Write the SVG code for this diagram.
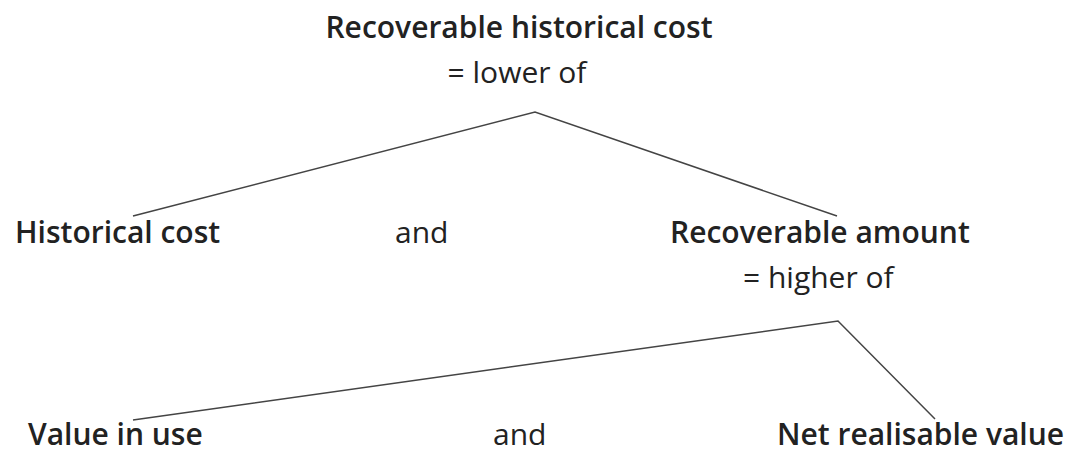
<svg xmlns="http://www.w3.org/2000/svg" width="1069" height="452" viewBox="0 0 1069 452">
  <style>
    text { font-family: "Open Sans", "Liberation Sans", sans-serif; font-size: 30px; fill: #222; }
    .b { font-weight: 600; }
    .c { text-anchor: middle; }
    .link { stroke: #444; stroke-width: 1.5; fill: none; }
  </style>
  <rect width="1069" height="452" fill="#fff"/>
  <g id="connectors">
    <polyline class="link" points="133,216 535,112 837,216"/>
    <polyline class="link" points="133,420 838,321 935,419"/>
  </g>
  <g id="recoverable-historical-cost">
    <text class="b c" x="519" y="38">Recoverable historical cost</text>
    <text class="c" x="517" y="83">= lower of</text>
  </g>
  <g id="historical-cost">
    <text class="b" x="15" y="243">Historical cost</text>
  </g>
  <g id="and-1">
    <text x="395" y="243">and</text>
  </g>
  <g id="recoverable-amount">
    <text class="b" x="670" y="243">Recoverable amount</text>
    <text x="743" y="288">= higher of</text>
  </g>
  <g id="value-in-use">
    <text class="b" x="28" y="445">Value in use</text>
  </g>
  <g id="and-2">
    <text x="493" y="445">and</text>
  </g>
  <g id="net-realisable-value">
    <text class="b" x="777" y="445">Net realisable value</text>
  </g>
</svg>
